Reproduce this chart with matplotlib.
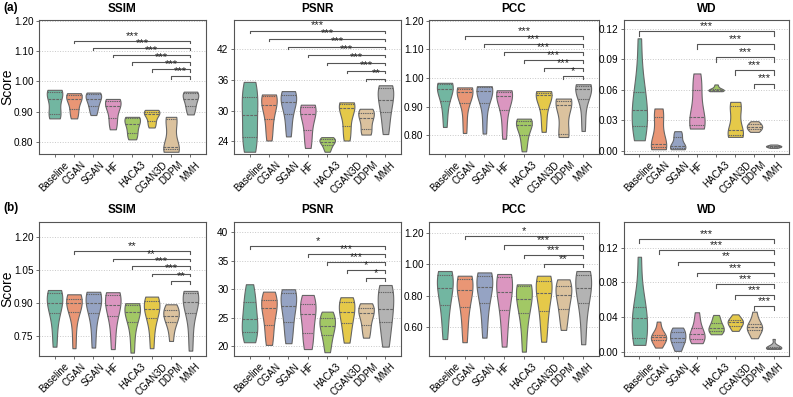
import numpy as np
import pandas as pd
import matplotlib
matplotlib.use("Agg")
import matplotlib.pyplot as plt
import seaborn as sns

methods = ["Baseline", "CGAN", "SGAN", "HF", "HACA3", "CGAN3D", "DDPM", "MMH"]
metrics = ["SSIM", "PSNR", "PCC", "WD"]

# ---------------- row (a) samples ----------------
a_ssim = [
    [0.878, 0.884, 0.891, 0.915, 0.941, 0.958, 0.965, 0.969, 0.972],
    [0.878, 0.892, 0.908, 0.928, 0.941, 0.950, 0.955, 0.959, 0.961],
    [0.889, 0.905, 0.919, 0.933, 0.941, 0.952, 0.958, 0.961, 0.963],
    [0.842, 0.860, 0.878, 0.905, 0.920, 0.930, 0.935, 0.939, 0.942],
    [0.809, 0.818, 0.831, 0.848, 0.859, 0.872, 0.878, 0.881, 0.883],
    [0.848, 0.858, 0.869, 0.884, 0.893, 0.898, 0.900, 0.903, 0.906],
    [0.768, 0.772, 0.776, 0.780, 0.785, 0.840, 0.876, 0.880, 0.883],
    [0.891, 0.905, 0.919, 0.933, 0.942, 0.955, 0.960, 0.963, 0.966],
]
a_psnr = [
    [21.94, 22.8, 24.8, 26.8, 29.14, 31.2, 32.6, 34.8, 35.6],
    [24.14, 26.0, 28.3, 30.0, 31.14, 32.2, 32.8, 33.0, 33.14],
    [24.94, 27.0, 29.3, 30.8, 31.7, 32.6, 33.1, 33.5, 33.8],
    [22.68, 24.3, 26.2, 28.0, 29.4, 30.2, 30.6, 30.9, 31.14],
    [21.94, 22.6, 23.2, 23.6, 23.9, 24.2, 24.4, 24.6, 24.8],
    [24.14, 25.5, 27.0, 29.0, 30.5, 31.0, 31.2, 31.4, 31.6],
    [25.3, 25.6, 26.3, 27.8, 28.5, 29.3, 29.6, 30.1, 30.34],
    [25.4, 27.5, 29.7, 31.0, 32.0, 33.5, 34.34, 34.7, 34.94],
]
a_pcc = [
    [0.829, 0.880, 0.919, 0.945, 0.963, 0.972, 0.978, 0.981, 0.983],
    [0.808, 0.860, 0.914, 0.938, 0.951, 0.958, 0.962, 0.965, 0.967],
    [0.806, 0.860, 0.914, 0.940, 0.954, 0.963, 0.967, 0.969, 0.971],
    [0.788, 0.840, 0.887, 0.920, 0.937, 0.948, 0.952, 0.955, 0.957],
    [0.744, 0.775, 0.800, 0.822, 0.835, 0.845, 0.850, 0.855, 0.858],
    [0.812, 0.850, 0.890, 0.925, 0.940, 0.946, 0.948, 0.951, 0.954],
    [0.794, 0.800, 0.806, 0.860, 0.907, 0.915, 0.920, 0.925, 0.928],
    [0.815, 0.870, 0.925, 0.948, 0.960, 0.968, 0.972, 0.975, 0.978],
]
a_wd = [
    [0.0105, 0.0180, 0.0243, 0.0330, 0.0407, 0.0480, 0.0574, 0.0750, 0.1106],
    [0.0017, 0.0030, 0.0040, 0.0055, 0.0066, 0.0200, 0.0335, 0.0380, 0.0417],
    [0.0017, 0.0025, 0.0032, 0.0037, 0.0045, 0.0090, 0.0138, 0.0170, 0.0194],
    [0.0220, 0.0235, 0.0253, 0.0290, 0.0334, 0.0450, 0.0597, 0.0680, 0.0761],
    [0.0587, 0.0590, 0.0593, 0.0597, 0.0600, 0.0605, 0.0612, 0.0630, 0.0653],
    [0.0138, 0.0150, 0.0161, 0.0180, 0.0204, 0.0350, 0.0440, 0.0460, 0.0482],
    [0.0187, 0.0200, 0.0215, 0.0230, 0.0235, 0.0250, 0.0260, 0.0275, 0.0292],
    [0.0030, 0.0035, 0.0040, 0.0043, 0.0046, 0.0049, 0.0052, 0.0057, 0.0063],
]

# ---------------- row (b) samples ----------------
b_ssim = [
    [0.701, 0.780, 0.853, 0.880, 0.899, 0.925, 0.944, 0.952, 0.959],
    [0.694, 0.780, 0.858, 0.885, 0.899, 0.912, 0.920, 0.930, 0.9395],
    [0.697, 0.780, 0.853, 0.882, 0.899, 0.925, 0.939, 0.946, 0.951],
    [0.690, 0.770, 0.841, 0.872, 0.890, 0.920, 0.936, 0.944, 0.949],
    [0.674, 0.750, 0.812, 0.842, 0.858, 0.878, 0.890, 0.895, 0.899],
    [0.694, 0.770, 0.833, 0.855, 0.871, 0.895, 0.909, 0.920, 0.929],
    [0.727, 0.780, 0.815, 0.830, 0.842, 0.858, 0.868, 0.882, 0.894],
    [0.683, 0.770, 0.853, 0.885, 0.903, 0.930, 0.944, 0.950, 0.955],
]
b_psnr = [
    [20.7, 21.5, 22.56, 23.5, 24.7, 26.0, 27.7, 29.0, 30.88],
    [20.23, 21.8, 23.74, 25.5, 26.67, 27.5, 28.1, 28.9, 29.58],
    [20.53, 22.3, 24.3, 26.0, 27.07, 28.3, 29.3, 29.7, 30.0],
    [19.5, 20.8, 22.28, 24.2, 25.6, 26.6, 27.4, 28.3, 29.0],
    [18.95, 20.5, 21.98, 22.9, 23.56, 24.3, 24.9, 25.5, 26.07],
    [20.63, 22.3, 24.0, 25.0, 25.96, 26.9, 27.7, 28.2, 28.6],
    [21.5, 22.6, 23.74, 25.0, 25.8, 26.3, 26.67, 27.1, 27.54],
    [19.93, 22.0, 24.3, 25.5, 26.5, 28.2, 29.47, 30.2, 30.75],
]
b_pcc = [
    [0.525, 0.640, 0.741, 0.800, 0.847, 0.895, 0.931, 0.945, 0.957],
    [0.505, 0.620, 0.726, 0.790, 0.836, 0.875, 0.906, 0.918, 0.927],
    [0.534, 0.650, 0.752, 0.810, 0.853, 0.895, 0.925, 0.938, 0.948],
    [0.477, 0.600, 0.709, 0.775, 0.825, 0.875, 0.917, 0.930, 0.938],
    [0.445, 0.580, 0.689, 0.740, 0.777, 0.830, 0.864, 0.868, 0.872],
    [0.508, 0.610, 0.703, 0.770, 0.819, 0.865, 0.893, 0.912, 0.927],
    [0.583, 0.660, 0.714, 0.770, 0.804, 0.840, 0.861, 0.885, 0.904],
    [0.492, 0.630, 0.752, 0.800, 0.847, 0.895, 0.931, 0.945, 0.957],
]
b_wd = [
    [0.0077, 0.0110, 0.0154, 0.0280, 0.0385, 0.0450, 0.0512, 0.0700, 0.1095],
    [0.0046, 0.0090, 0.0130, 0.0150, 0.0165, 0.0180, 0.0195, 0.0250, 0.0346],
    [0.0008, 0.0060, 0.0115, 0.0135, 0.0161, 0.0190, 0.0230, 0.0260, 0.0277],
    [0.0097, 0.0120, 0.0146, 0.0170, 0.0200, 0.0230, 0.0270, 0.0360, 0.0454],
    [0.0200, 0.0220, 0.0240, 0.0260, 0.0277, 0.0300, 0.0334, 0.0380, 0.0423],
    [0.0239, 0.0270, 0.0300, 0.0320, 0.0340, 0.0350, 0.0365, 0.0390, 0.0430],
    [0.0154, 0.0200, 0.0250, 0.0265, 0.0280, 0.0300, 0.0320, 0.0380, 0.0461],
    [0.0031, 0.0035, 0.0040, 0.0044, 0.0047, 0.0051, 0.0056, 0.0080, 0.0146],
]

# significance vs MMH: (group index, label), listed from top bracket to bottom
a_ssim_sig = [(1, "***"), (2, "***"), (3, "***"), (4, "***"), (5, "***"), (6, "***")]
a_psnr_sig = [(0, "***"), (1, "***"), (2, "***"), (3, "***"), (4, "***"), (5, "***"), (6, "**")]
a_pcc_sig = [(1, "***"), (2, "***"), (3, "***"), (4, "***"), (5, "***"), (6, "*")]
a_wd_sig = [(0, "***"), (3, "***"), (4, "***"), (5, "***"), (6, "***")]
b_ssim_sig = [(1, "**"), (3, "**"), (4, "***"), (5, "***"), (6, "**")]
b_psnr_sig = [(0, "*"), (3, "***"), (4, "***"), (5, "*"), (6, "*")]
b_pcc_sig = [(1, "*"), (3, "***"), (4, "***"), (5, "**")]
b_wd_sig = [(0, "***"), (1, "***"), (2, "**"), (3, "***"), (4, "***"), (5, "***"), (6, "***")]

# ---------------- layout ----------------
FONT = ["Liberation Sans", "DejaVu Sans"]
plt.rcParams["font.family"] = FONT

fig = plt.figure(figsize=(7.93, 3.97), dpi=100)
W, H = 793.0, 397.0
col_left = [39, 234, 429, 624]
col_width = [167, 167, 170, 165]
row_top = [20, 221.7]
row_h = 134.2

panels = [
    # row, col, data, sig, ylim, yticks, fmt, bracket_top, bracket_step
    (0, 0, a_ssim, a_ssim_sig, (0.760, 1.202), np.arange(0.80, 1.201, 0.10), "{:.2f}", 1.134, 0.0236),
    (0, 1, a_psnr, a_psnr_sig, (21.46, 47.7), [24, 30, 36, 42], "{:.0f}", 45.64, 1.565),
    (0, 2, a_pcc, a_pcc_sig, (0.734, 1.202), np.arange(0.80, 1.201, 0.10), "{:.2f}", 1.147, 0.0284),
    (0, 3, a_wd, a_wd_sig, (-0.0032, 0.1286), np.arange(0.0, 0.121, 0.03), "{:.2f}", 0.1178, 0.0129),
    (1, 0, b_ssim, b_ssim_sig, (0.659, 1.270), [0.75, 0.90, 1.05, 1.20], "{:.2f}", 1.136, 0.034),
    (1, 1, b_psnr, b_psnr_sig, (18.3, 41.86), [20, 25, 30, 35, 40], "{:.0f}", 37.65, 1.43),
    (1, 2, b_pcc, b_pcc_sig, (0.418, 1.270), [0.60, 0.80, 1.00, 1.20], "{:.2f}", 1.178, 0.059),
    (1, 3, b_wd, b_wd_sig, (-0.005, 0.150), [0.00, 0.04, 0.08, 0.12], "{:.2f}", 0.1296, 0.0128),
]

edge = "#555555"
for row, col, data, sig, ylim, yticks, fmt, btop, bstep in panels:
    left = col_left[col] / W
    bottom = 1 - (row_top[row] + row_h) / H
    ax = fig.add_axes([left, bottom, col_width[col] / W, row_h / H])
    df = pd.DataFrame({
        "method": np.repeat(methods, [len(v) for v in data]),
        "value": np.concatenate([np.asarray(v, float) for v in data]),
    })
    sns.violinplot(data=df, x="method", y="value", hue="method", order=methods,
                   hue_order=methods, palette="Set2", cut=0, inner="quart",
                   density_norm="width", width=0.8, linewidth=0.8,
                   linecolor="#666666", ax=ax, legend=False)
    ax.set_xlim(-0.8, 7.8)
    ax.set_ylim(*ylim)
    ax.set_yticks(yticks)
    ax.set_yticklabels([fmt.format(t) for t in yticks], fontsize=7.2)
    ax.set_xticks(range(len(methods)))
    ax.set_xticklabels(methods, rotation=45, ha="center", fontsize=7.0)
    ax.tick_params(axis="both", length=2.5, width=0.6, color=edge, pad=1.5)
    ax.set_xlabel("")
    if col == 0:
        ax.set_ylabel("Score", fontsize=10)
        ax.yaxis.set_label_coords((14.5 - col_left[col]) / col_width[col], 0.5)
    else:
        ax.set_ylabel("")
    ax.yaxis.grid(True, linestyle=":", color="#c8c8c8", linewidth=0.7)
    ax.set_axisbelow(True)
    for s in ax.spines.values():
        s.set_color(edge)
        s.set_linewidth(0.8)
    ax.set_title(metrics[col], fontsize=8.5, fontweight="bold", pad=6)

    tick = 0.35 * bstep
    for k, (g, lab) in enumerate(sig):
        y = btop - k * bstep
        ax.plot([g, g, 7, 7], [y - tick, y, y, y - tick], color="#555555", lw=0.8)
        ax.text((g + 7) / 2, y, lab, ha="center", va="bottom", fontsize=8, color="#222222")

fig.text(3 / W, 1 - 7.5 / H, "(a)", fontsize=8.5, fontweight="bold", va="center", ha="left")
fig.text(3 / W, 1 - 208 / H, "(b)", fontsize=8.5, fontweight="bold", va="center", ha="left")

fig.savefig("out.png", dpi=100)
